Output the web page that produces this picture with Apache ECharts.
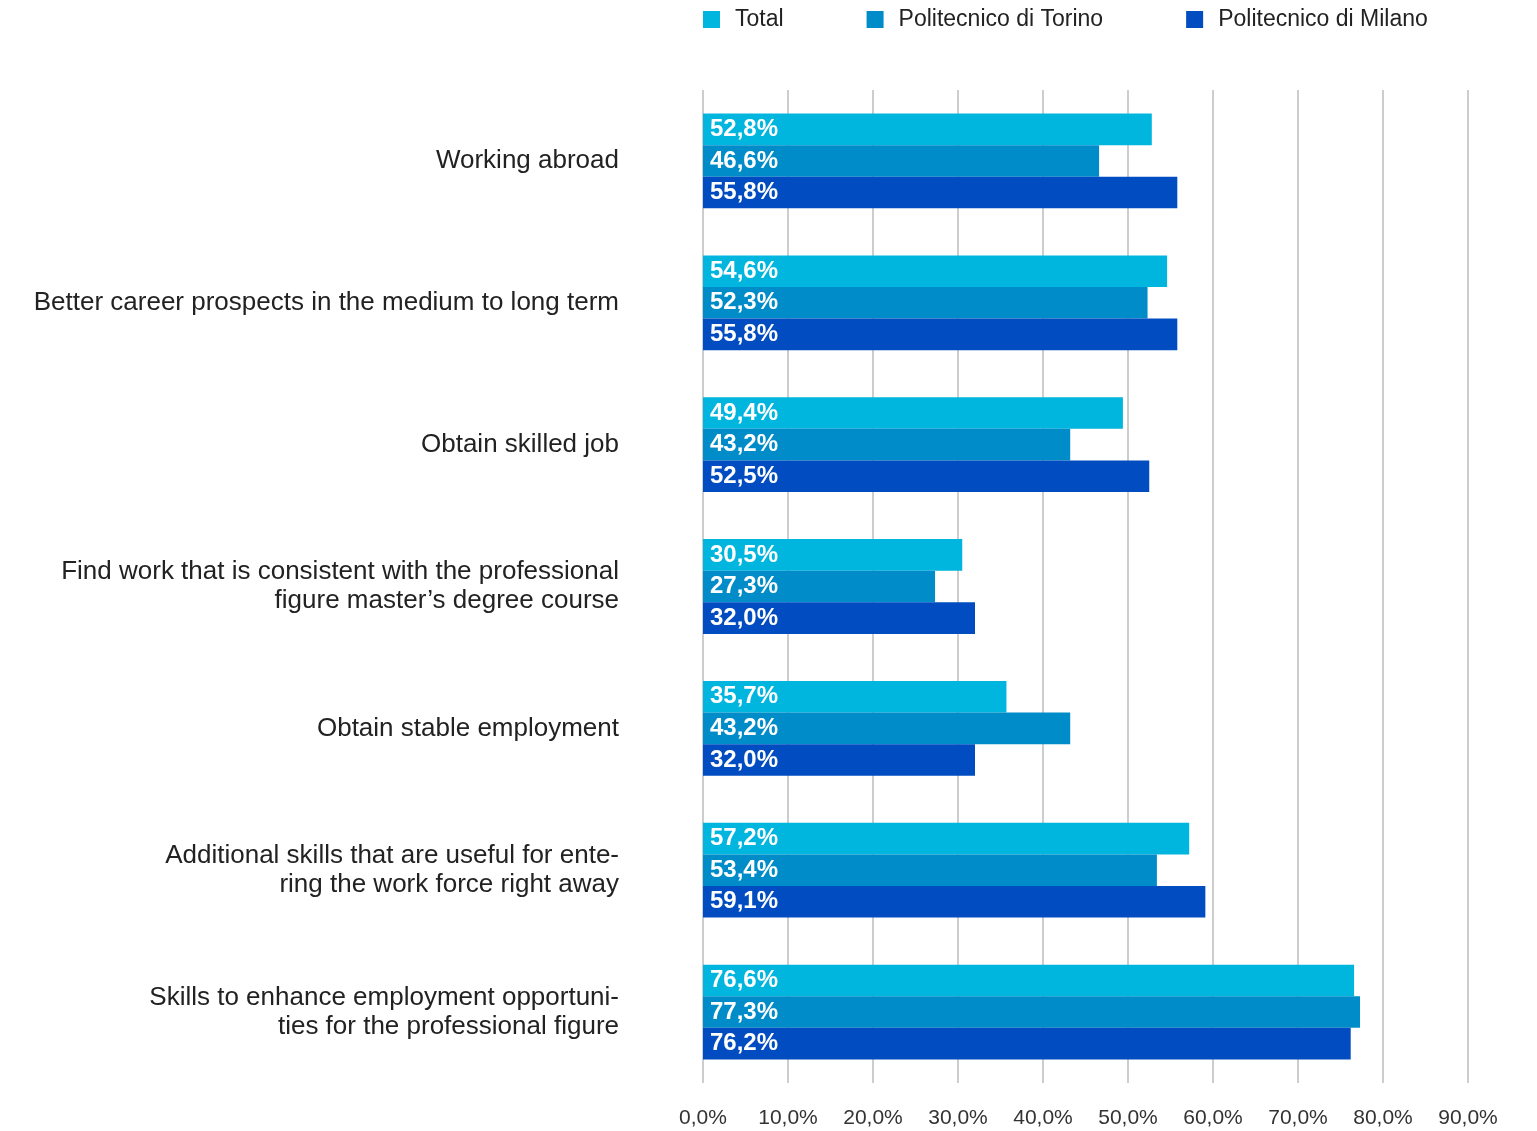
<!DOCTYPE html>
<html>
<head>
<meta charset="utf-8">
<script src="https://cdn.jsdelivr.net/npm/echarts@6/dist/echarts.min.js"></script>
<style>
html,body{margin:0;padding:0;background:#fff;}
#chart{width:1537px;height:1131px;}
</style>
</head>
<body>
<div id="chart"></div>
<script>
var categories = [
  "Working abroad",
  "Better career prospects in the medium to long term",
  "Obtain skilled job",
  "Find work that is consistent with the professional\nfigure master\u2019s degree course",
  "Obtain stable employment",
  "Additional skills that are useful for ente-\nring the work force right away",
  "Skills to enhance employment opportuni-\nties for the professional figure"
];
var seriesNames = ["Total", "Politecnico di Torino", "Politecnico di Milano"];
var totalValues  = [52.8, 54.6, 49.4, 30.5, 35.7, 57.2, 76.6];
var torinoValues = [46.6, 52.3, 43.2, 27.3, 43.2, 53.4, 77.3];
var milanoValues = [55.8, 55.8, 52.5, 32.0, 32.0, 59.1, 76.2];
var xTicks = [0, 10, 20, 30, 40, 50, 60, 70, 80, 90];
var colors = ["#00b5de", "#008cc8", "#004cc0"];

var FONT = "'Liberation Sans', Arial, sans-serif";
function fmt(v){ return v.toFixed(1).replace('.', ',') + '%'; }

var chart = echarts.init(document.getElementById('chart'));
var seriesData = [totalValues, torinoValues, milanoValues];
var series = seriesNames.map(function(name, i){
  return {
    name: name,
    type: 'bar',
    data: seriesData[i],
    barWidth: 31.6,
    barGap: '0%',
    itemStyle: { color: colors[i] },
    label: {
      show: true,
      position: 'insideLeft',
      distance: 7,
      color: '#fff',
      fontFamily: FONT,
      fontWeight: 'bold',
      fontSize: 24,
      formatter: function(p){ return fmt(p.value); }
    }
  };
});

chart.setOption({
  animation: false,
  color: colors,
  legend: {
    data: seriesNames,
    left: 703,
    top: 8,
    padding: 0,
    itemWidth: 17,
    itemHeight: 17,
    itemGap: 83,
    icon: 'rect',
    textStyle: { fontFamily: FONT, fontSize: 23, color: '#222', padding: [0,0,0,10] }
  },
  grid: { left: 703, right: 69, top: 90, bottom: 48, containLabel: false },
  xAxis: {
    type: 'value',
    min: xTicks[0],
    max: xTicks[xTicks.length-1],
    interval: 10,
    axisLine: { show: false },
    axisTick: { show: false },
    splitLine: { show: true, lineStyle: { color: '#bdbdbd', width: 1.5 } },
    axisLabel: {
      margin: 25,
      fontFamily: FONT, fontSize: 21, color: '#333',
      formatter: function(v){ return v.toFixed(1).replace('.', ',') + '%'; }
    }
  },
  yAxis: {
    type: 'category',
    data: categories,
    inverse: true,
    axisLine: { show: false },
    axisTick: { show: false },
    axisLabel: {
      margin: 84,
      fontFamily: FONT, fontSize: 26, color: '#222',
      lineHeight: 29, align: 'right',
      padding: [5, 0, 0, 0]
    }
  },
  series: series
});
</script>
</body>
</html>
